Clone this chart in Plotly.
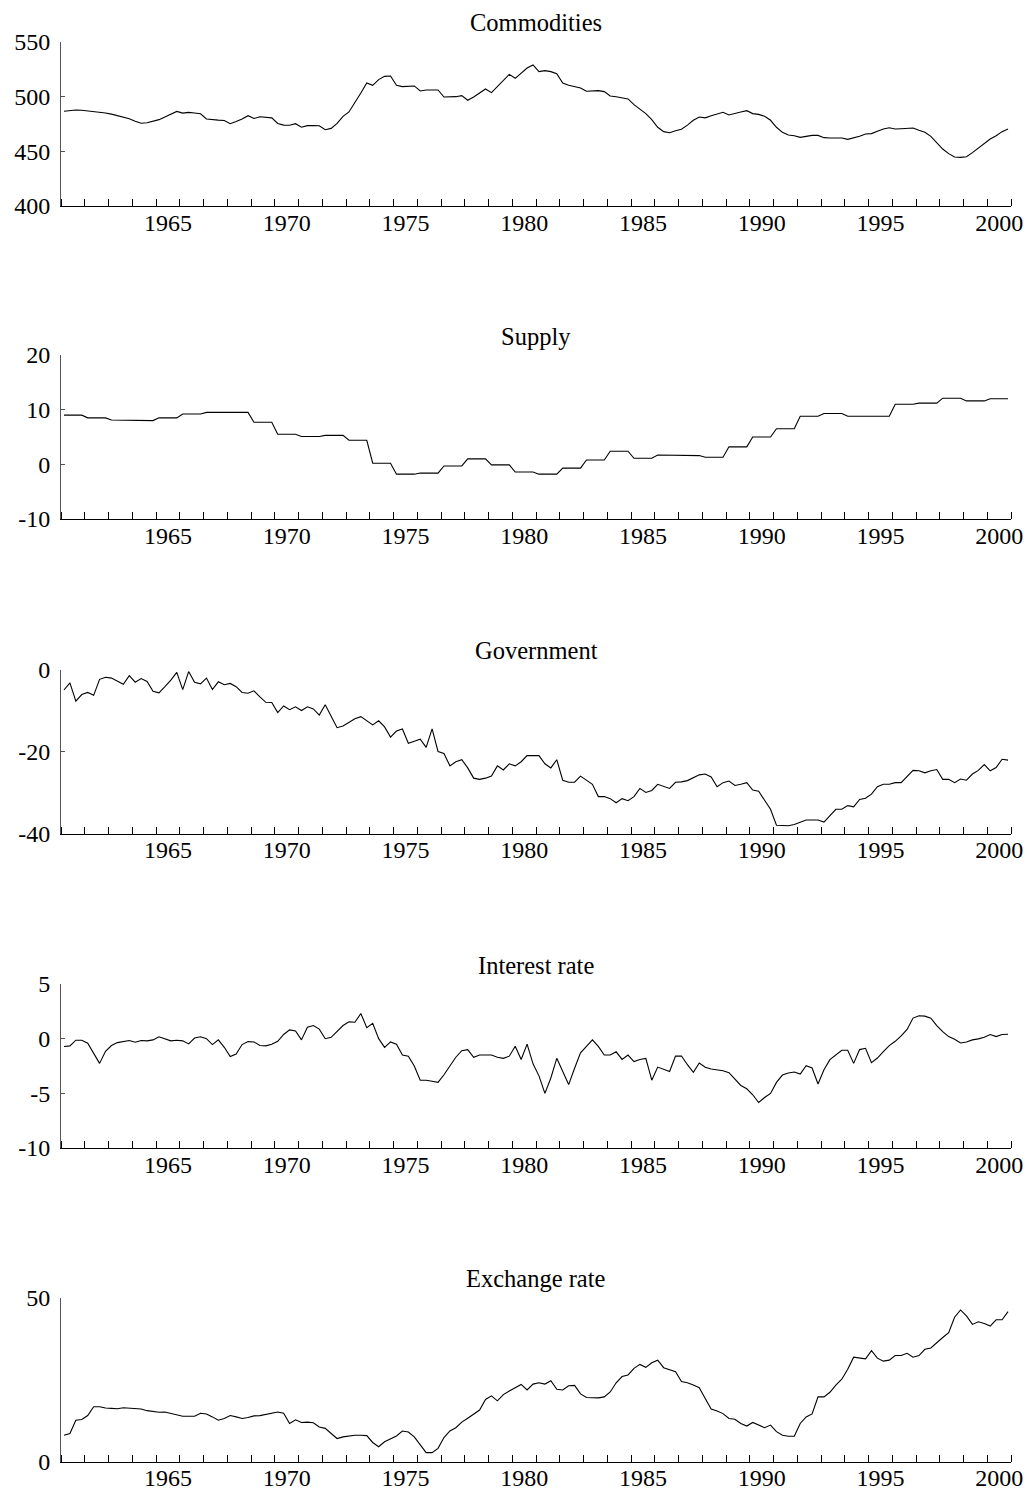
import plotly.graph_objects as go

# ---------------- data (quarterly, 1960Q3 .. 2000Q2) ----------------
START_YEAR = 1960
START_QUARTER = 3

titles = ["Commodities", "Supply", "Government", "Interest rate", "Exchange rate"]

commodities = [
    486.6, 487.3, 487.8, 487.6, 487.0, 486.4, 486.0, 485.0, 484.0, 482.6,
    481.5, 479.8, 477.5, 475.7, 476.2, 477.6, 479.0, 481.5, 484.0, 486.5,
    485.0, 485.6, 485.0, 484.4, 479.6, 478.7, 478.5, 478.2, 475.3, 477.2,
    479.5, 482.6, 480.0, 481.6, 481.3, 480.6, 475.5, 474.0, 473.8, 475.3,
    472.0, 473.5, 473.5, 473.4, 469.8, 471.0, 475.5, 482.0, 486.0, 494.2,
    503.4, 512.5, 510.4, 515.6, 518.6, 518.9, 510.4, 509.2, 509.5, 509.8,
    505.2, 506.1, 506.1, 506.1, 499.7, 499.7, 500.0, 500.9, 496.7, 499.7,
    503.0, 507.0, 503.7, 509.5, 515.0, 520.4, 516.8, 521.7, 526.2, 529.0,
    522.9, 523.8, 522.9, 521.0, 512.5, 510.4, 508.9, 508.0, 504.9, 505.2,
    505.5, 504.6, 500.6, 500.0, 498.8, 497.9, 492.7, 489.0, 484.5, 479.0,
    472.0, 468.0, 467.0, 468.9, 470.2, 474.0, 478.4, 481.4, 480.6, 482.5,
    484.1, 485.7, 483.2, 484.8, 486.0, 487.2, 484.5, 483.8, 482.0, 478.4,
    472.0, 467.4, 464.9, 464.3, 462.8, 463.7, 464.6, 464.6, 462.5, 462.2,
    462.2, 462.2, 461.0, 462.2, 463.7, 465.9, 466.2, 468.3, 470.4, 471.6,
    470.4, 470.7, 471.0, 471.3, 469.2, 467.4, 463.7, 458.2, 452.1, 447.9,
    444.8, 444.5, 445.1, 448.8, 453.0, 457.9, 461.3, 464.3, 468.0, 470.4,
]

supply = [
    9.0, 9.0, 9.0, 9.0, 8.5, 8.5, 8.5, 8.5, 8.1, 8.1,
    8.1, 8.1, 8.0, 8.0, 8.0, 8.0, 8.5, 8.5, 8.5, 8.5,
    9.2, 9.2, 9.2, 9.2, 9.5, 9.5, 9.5, 9.5, 9.5, 9.5,
    9.5, 9.5, 7.7, 7.7, 7.7, 7.7, 5.5, 5.5, 5.5, 5.5,
    5.1, 5.1, 5.1, 5.1, 5.3, 5.3, 5.3, 5.3, 4.4, 4.4,
    4.4, 4.4, 0.2, 0.2, 0.2, 0.2, -1.8, -1.8, -1.8, -1.8,
    -1.6, -1.6, -1.6, -1.6, -0.3, -0.3, -0.3, -0.3, 1.0, 1.0,
    1.0, 1.0, -0.1, -0.1, -0.1, -0.1, -1.4, -1.4, -1.4, -1.4,
    -1.8, -1.8, -1.8, -1.8, -0.7, -0.7, -0.7, -0.7, 0.8, 0.8,
    0.8, 0.8, 2.4, 2.4, 2.4, 2.4, 1.1, 1.1, 1.1, 1.1,
    1.7, 1.7, 1.7, 1.7, 1.6, 1.6, 1.6, 1.6, 1.3, 1.3,
    1.3, 1.3, 3.2, 3.2, 3.2, 3.2, 5.0, 5.0, 5.0, 5.0,
    6.5, 6.5, 6.5, 6.5, 8.8, 8.8, 8.8, 8.8, 9.3, 9.3,
    9.3, 9.3, 8.8, 8.8, 8.8, 8.8, 8.8, 8.8, 8.8, 8.8,
    11.0, 11.0, 11.0, 11.0, 11.2, 11.2, 11.2, 11.2, 12.1, 12.1,
    12.1, 12.1, 11.6, 11.6, 11.6, 11.6, 12.0, 12.0, 12.0, 12.0,
]

government = [
    -5.0, -3.25, -7.7, -6.1, -5.6, -6.3, -2.4, -1.9, -2.1, -2.85,
    -3.6, -1.5, -3.1, -2.2, -2.9, -5.3, -5.7, -4.2, -2.6, -0.7,
    -4.9, -0.5, -3.1, -3.5, -2.1, -4.9, -3.0, -3.7, -3.4, -4.2,
    -5.6, -5.8, -5.2, -6.7, -8.0, -8.05, -10.5, -8.9, -9.8, -9.1,
    -10.0, -9.1, -9.6, -11.1, -8.6, -11.4, -14.2, -13.8, -12.8, -12.0,
    -11.5, -12.5, -13.5, -12.5, -14.0, -16.5, -15.0, -14.5, -18.0, -17.5,
    -17.0, -19.0, -14.5, -20.0, -20.5, -23.5, -22.5, -22.0, -24.0, -26.5,
    -26.8, -26.5, -26.0, -23.5, -24.5, -23.0, -23.5, -22.5, -21.0, -21.0,
    -21.0, -23.0, -24.0, -22.0, -27.0, -27.5, -27.5, -26.0, -27.0, -28.0,
    -31.0, -31.0, -31.5, -32.5, -31.5, -32.0, -31.0, -29.0, -30.0, -29.5,
    -28.0, -28.5, -29.0, -27.5, -27.4, -27.1, -26.4, -25.7, -25.5, -26.2,
    -28.6, -27.6, -27.2, -28.3, -28.0, -27.6, -29.4, -29.7, -31.9, -34.1,
    -38.0, -38.1, -38.1, -37.8, -37.2, -36.7, -36.7, -36.7, -37.2, -35.7,
    -34.1, -34.1, -33.2, -33.5, -31.7, -31.4, -30.4, -28.6, -28.0, -28.0,
    -27.6, -27.6, -26.0, -24.6, -24.7, -25.2, -24.7, -24.4, -26.8, -26.8,
    -27.6, -26.7, -27.0, -25.5, -24.6, -23.2, -24.7, -23.9, -21.9, -22.1,
]

interest_rate = [
    -0.72, -0.66, -0.14, -0.14, -0.42, -1.34, -2.26, -1.15, -0.63, -0.36,
    -0.24, -0.17, -0.33, -0.17, -0.2, -0.11, 0.17, -0.03, -0.2, -0.14,
    -0.2, -0.48, 0.06, 0.17, 0.0, -0.54, -0.11, -0.79, -1.64, -1.4,
    -0.54, -0.27, -0.3, -0.63, -0.66, -0.51, -0.24, 0.38, 0.8, 0.71,
    -0.11, 1.05, 1.2, 0.87, 0.0, 0.12, 0.64, 1.2, 1.54, 1.5,
    2.3, 1.0, 1.4, 0.0, -0.8, -0.3, -0.5, -1.5, -1.6, -2.5,
    -3.8, -3.8, -3.9, -4.0, -3.3, -2.5, -1.7, -1.1, -1.0, -1.7,
    -1.5, -1.5, -1.5, -1.7, -1.8, -1.6, -0.7, -1.9, -0.5, -2.3,
    -3.4, -5.0, -3.6, -1.8, -3.0, -4.2, -2.7, -1.3, -0.7, -0.1,
    -0.7, -1.5, -1.5, -1.2, -1.9, -1.5, -2.1, -1.9, -1.8, -3.8,
    -2.6, -2.8, -3.0, -1.6, -1.58, -2.38, -3.08, -2.22, -2.62, -2.78,
    -2.87, -2.93, -3.11, -3.69, -4.28, -4.58, -5.13, -5.84, -5.38, -5.01,
    -4.0, -3.33, -3.14, -3.05, -3.24, -2.47, -2.68, -4.15, -2.84, -1.92,
    -1.49, -1.06, -1.06, -2.26, -1.0, -0.88, -2.19, -1.77, -1.18, -0.63,
    -0.24, 0.25, 0.84, 1.88, 2.09, 2.06, 1.88, 1.2, 0.65, 0.19,
    -0.05, -0.39, -0.3, -0.11, -0.02, 0.13, 0.38, 0.19, 0.38, 0.41,
]

exchange_rate = [
    8.0, 8.55, 12.6, 12.8, 14.0, 16.7, 16.7, 16.3, 16.2, 16.1,
    16.4, 16.3, 16.3, 16.0, 15.5, 15.3, 15.0, 15.1, 14.7, 14.2,
    13.8, 13.8, 13.8, 14.7, 14.5, 13.6, 12.6, 13.1, 14.0, 13.6,
    13.1, 13.4, 13.9, 14.0, 14.4, 14.9, 15.1, 14.7, 11.6, 12.7,
    11.9, 12.0, 11.8, 10.5, 10.1, 8.55, 7.0, 7.5, 7.8, 8.0,
    8.0, 7.9, 5.8, 4.5, 6.0, 6.8, 7.8, 9.3, 9.0, 7.5,
    5.0, 2.7, 2.7, 4.0, 7.3, 9.3, 10.3, 12.0, 13.2, 14.5,
    15.7, 18.9, 20.0, 18.5, 20.4, 21.5, 22.4, 23.5, 21.8, 23.6,
    24.0, 23.6, 24.6, 22.0, 21.8, 23.1, 23.2, 20.6, 19.5, 19.5,
    19.4, 19.7, 21.2, 24.0, 25.9, 26.4, 28.4, 29.6, 28.7, 30.1,
    30.9, 28.6, 28.1, 27.4, 24.4, 24.0, 23.3, 22.5, 19.2, 16.0,
    15.4, 14.6, 13.1, 12.9, 11.6, 10.8, 11.9, 11.1, 10.3, 11.1,
    9.1, 8.0, 7.7, 7.7, 11.6, 13.6, 14.5, 19.7, 19.7, 21.1,
    23.3, 25.1, 28.1, 31.8, 31.5, 31.3, 33.8, 31.5, 30.6, 30.9,
    32.3, 32.3, 33.0, 31.8, 32.3, 34.2, 34.6, 36.3, 37.8, 39.3,
    44.0, 46.2, 44.4, 41.8, 42.6, 42.1, 41.3, 43.2, 43.2, 45.7,
]

series = [commodities, supply, government, interest_rate, exchange_rate]

y_ranges = [[400, 550], [-10, 20], [-40, 0], [-10, 5], [0, 50]]
y_ticks = [[400, 450, 500, 550], [-10, 0, 10, 20], [-40, -20, 0], [-10, -5, 0, 5], [0, 50]]
y_ticklabels = [["400", "450", "500", "550"], ["-10", "0", "10", "20"],
                ["-40", "-20", "0"], ["-10", "-5", "0", "5"], ["0", "50"]]
x_ticks = [1965, 1970, 1975, 1980, 1985, 1990, 1995, 2000]
x_range = [1960.5, 2000.5]

# ---------------- layout geometry (pixels) ----------------
W, H = 1029, 1495
panel_top = [42, 355, 669.5, 984, 1297.5]
panel_h = 164
title_gap = 19

# quarterly time axis in fractional years (mid-quarter)
n = len(commodities)
x_vals = [START_YEAR + (START_QUARTER - 1 + k) / 4 + 0.125 for k in range(n)]

FONT = "Liberation Serif"
fig = go.Figure()
layout = dict(
    width=W, height=H, autosize=False,
    margin=dict(l=61, r=18, t=0, b=0, pad=0, autoexpand=False),
    paper_bgcolor="white", plot_bgcolor="white",
    showlegend=False,
    font=dict(family=FONT, size=24, color="black"),
    annotations=[],
)

for k in range(5):
    idx = "" if k == 0 else str(k + 1)
    top = panel_top[k]
    bot = top + panel_h
    fig.add_trace(go.Scatter(x=x_vals, y=series[k], mode="lines",
                             line=dict(color="black", width=1.1),
                             xaxis="x" + idx, yaxis="y" + idx,
                             hoverinfo="skip"))
    layout["xaxis" + idx] = dict(
        domain=[0, 1], anchor="y" + idx, range=x_range, automargin=False,
        showgrid=False, zeroline=False,
        showline=True, linecolor="black", linewidth=1,
        tickmode="array", tickvals=x_ticks, ticktext=[str(t) for t in x_ticks],
        ticks="", ticklen=0, ticklabelstandoff=-5,
        tickfont=dict(family=FONT, size=24, color="black"),
        minor=dict(tickmode="linear", tick0=1960.5, dtick=1,
                   ticks="inside", ticklen=7, tickwidth=1, tickcolor="black",
                   showgrid=False),
    )
    layout["yaxis" + idx] = dict(
        domain=[1 - bot / H, 1 - top / H], anchor="x" + idx,
        range=y_ranges[k], automargin=False,
        showgrid=False, zeroline=False,
        showline=True, linecolor="#555555", linewidth=1,
        tickmode="array", tickvals=y_ticks[k], ticktext=y_ticklabels[k],
        ticks="inside", ticklen=4, tickcolor="#555555", ticklabelstandoff=5,
        tickfont=dict(family=FONT, size=24, color="black"),
    )
    layout["annotations"].append(dict(
        text=titles[k], xref="paper", yref="paper",
        x=0.5, y=1 - (top - title_gap) / H,
        xanchor="center", yanchor="middle", showarrow=False,
        font=dict(family=FONT, size=24.5, color="black"),
    ))

fig.update_layout(**layout)
fig.write_html(
    "out.html",
    config={"displayModeBar": False, "responsive": False},
    post_script="document.body.style.margin='0';document.body.style.overflow='hidden';",
)
